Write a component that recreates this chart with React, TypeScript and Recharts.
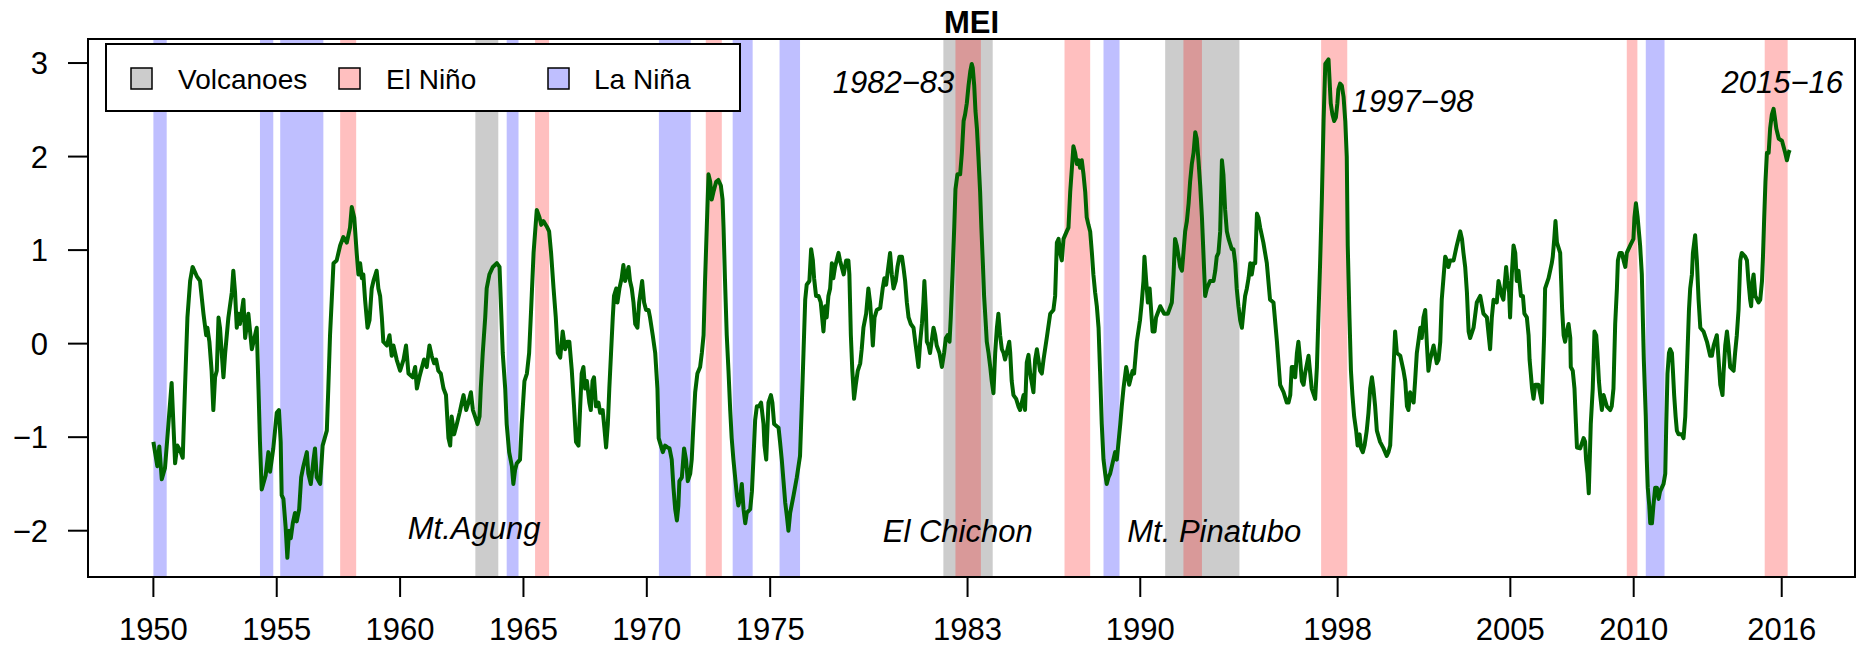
import React from 'react';
import { ComposedChart, Line, XAxis, YAxis, ReferenceArea, ReferenceDot, Legend } from 'recharts';

const FONT = '"Liberation Sans", Arial, Helvetica, sans-serif';

// MEI values: [decimal year, index]
const mei1950s: [number, number][] = [
  [1950.00, -1.05], [1950.16, -1.31], [1950.24, -1.10], [1950.34, -1.45], [1950.47, -1.33], [1950.61, -0.86],
  [1950.74, -0.42], [1950.88, -1.28], [1950.97, -1.09], [1951.08, -1.14], [1951.19, -1.22], [1951.28, -0.48],
  [1951.38, 0.28], [1951.49, 0.67], [1951.59, 0.82], [1951.76, 0.72], [1951.89, 0.67], [1952.03, 0.32],
  [1952.14, 0.09], [1952.19, 0.17], [1952.27, 0.02], [1952.36, -0.29], [1952.43, -0.71], [1952.50, -0.36],
  [1952.57, -0.29], [1952.64, 0.28], [1952.70, 0.17], [1952.77, -0.10], [1952.84, -0.36], [1952.91, -0.10],
  [1953.04, 0.28], [1953.18, 0.55], [1953.24, 0.78], [1953.31, 0.55], [1953.38, 0.17], [1953.45, 0.32],
  [1953.51, 0.21], [1953.65, 0.47], [1953.72, 0.06], [1953.85, 0.32], [1953.99, -0.06], [1954.12, 0.09],
  [1954.19, 0.17], [1954.26, -0.48], [1954.32, -1.05], [1954.39, -1.56], [1954.55, -1.41], [1954.66, -1.16],
  [1954.73, -1.37], [1954.86, -1.12], [1955.00, -0.74], [1955.09, -0.71], [1955.16, -1.05], [1955.20, -1.62],
  [1955.27, -1.66], [1955.36, -1.96], [1955.43, -2.29], [1955.50, -2.00], [1955.57, -2.08], [1955.65, -1.92],
  [1955.74, -1.81], [1955.81, -1.90], [1955.91, -1.77], [1955.99, -1.43], [1956.08, -1.31], [1956.22, -1.16],
  [1956.28, -1.39], [1956.38, -1.50], [1956.49, -1.24], [1956.55, -1.12], [1956.62, -1.43], [1956.76, -1.50],
  [1956.86, -1.09], [1957.03, -0.93], [1957.09, -0.48], [1957.16, 0.09], [1957.23, 0.47], [1957.30, 0.86],
  [1957.43, 0.89], [1957.57, 1.05], [1957.70, 1.14], [1957.84, 1.08], [1957.97, 1.24], [1958.04, 1.46],
  [1958.14, 1.35], [1958.24, 0.97], [1958.31, 0.74], [1958.38, 0.86], [1958.45, 0.70], [1958.51, 0.74],
  [1958.58, 0.47], [1958.68, 0.17], [1958.76, 0.25], [1958.85, 0.59], [1958.92, 0.67], [1959.05, 0.78],
  [1959.12, 0.59], [1959.19, 0.51], [1959.26, 0.28], [1959.32, 0.02], [1959.46, -0.02], [1959.57, 0.09],
  [1959.66, -0.13], [1959.73, -0.02], [1959.86, -0.17],
];

const mei1960s: [number, number][] = [
  [1960.00, -0.29], [1960.14, -0.17], [1960.24, -0.02], [1960.34, -0.32], [1960.51, -0.36], [1960.61, -0.25],
  [1960.68, -0.48], [1960.78, -0.36], [1960.97, -0.17], [1961.08, -0.25], [1961.19, -0.02], [1961.28, -0.13],
  [1961.38, -0.21], [1961.46, -0.17], [1961.55, -0.29], [1961.65, -0.32], [1961.76, -0.48], [1961.86, -0.55],
  [1961.96, -1.01], [1962.03, -1.09], [1962.09, -0.78], [1962.19, -0.97], [1962.30, -0.86], [1962.41, -0.74],
  [1962.50, -0.63], [1962.57, -0.55], [1962.68, -0.71], [1962.77, -0.63], [1962.87, -0.52], [1962.95, -0.71],
  [1963.04, -0.78], [1963.14, -0.86], [1963.22, -0.78], [1963.27, -0.48], [1963.35, -0.10], [1963.45, 0.28],
  [1963.51, 0.59], [1963.62, 0.74], [1963.76, 0.82], [1963.92, 0.86], [1964.03, 0.82], [1964.08, 0.47],
  [1964.16, -0.10], [1964.26, -0.48], [1964.32, -0.86], [1964.42, -1.16], [1964.53, -1.31], [1964.59, -1.50],
  [1964.66, -1.35], [1964.73, -1.28], [1964.86, -1.24], [1964.93, -0.86], [1965.04, -0.40], [1965.14, -0.32],
  [1965.23, -0.10], [1965.31, 0.36], [1965.41, 0.97], [1965.54, 1.43], [1965.65, 1.35], [1965.72, 1.27],
  [1965.81, 1.31], [1965.95, 1.25], [1966.04, 1.20], [1966.12, 0.97], [1966.22, 0.59], [1966.31, 0.28],
  [1966.39, -0.10], [1966.49, -0.15], [1966.59, 0.13], [1966.69, -0.06], [1966.78, 0.02], [1966.86, 0.02],
  [1966.96, -0.29], [1967.05, -0.67], [1967.13, -1.05], [1967.23, -1.09], [1967.30, -0.67], [1967.36, -0.32],
  [1967.43, -0.25], [1967.50, -0.48], [1967.57, -0.40], [1967.67, -0.63], [1967.73, -0.71], [1967.80, -0.40],
  [1967.86, -0.36], [1967.94, -0.67], [1968.04, -0.63], [1968.11, -0.74], [1968.21, -0.71], [1968.28, -0.90],
  [1968.35, -1.11], [1968.42, -0.86], [1968.48, -0.48], [1968.55, -0.10], [1968.62, 0.28], [1968.67, 0.51],
  [1968.76, 0.59], [1968.81, 0.44], [1968.89, 0.59], [1968.98, 0.70], [1969.05, 0.84], [1969.12, 0.67],
  [1969.26, 0.82], [1969.32, 0.67], [1969.39, 0.59], [1969.46, 0.44], [1969.53, 0.21], [1969.62, 0.17],
  [1969.69, 0.44], [1969.81, 0.67], [1969.89, 0.44], [1969.97, 0.36],
];

const mei1970s: [number, number][] = [
  [1970.07, 0.36], [1970.13, 0.28], [1970.24, 0.09], [1970.34, -0.10], [1970.43, -0.48], [1970.48, -1.01],
  [1970.57, -1.09], [1970.65, -1.16], [1970.74, -1.09], [1970.84, -1.11], [1970.92, -1.12], [1971.01, -1.24],
  [1971.08, -1.54], [1971.15, -1.77], [1971.22, -1.89], [1971.28, -1.73], [1971.32, -1.47], [1971.42, -1.43],
  [1971.51, -1.12], [1971.59, -1.24], [1971.66, -1.47], [1971.76, -1.39], [1971.82, -1.24], [1971.89, -0.86],
  [1971.96, -0.52], [1972.05, -0.32], [1972.16, -0.25], [1972.23, -0.10], [1972.30, 0.09], [1972.36, 0.67],
  [1972.43, 1.24], [1972.50, 1.81], [1972.57, 1.73], [1972.63, 1.54], [1972.70, 1.62], [1972.81, 1.73],
  [1972.90, 1.75], [1973.00, 1.69], [1973.07, 1.54], [1973.11, 1.24], [1973.17, 0.67], [1973.24, 0.09],
  [1973.31, -0.29], [1973.38, -0.71], [1973.44, -1.01], [1973.51, -1.24], [1973.58, -1.43], [1973.65, -1.62],
  [1973.71, -1.73], [1973.78, -1.66], [1973.85, -1.50], [1973.92, -1.77], [1973.99, -1.92], [1974.05, -1.81],
  [1974.19, -1.77], [1974.26, -1.58], [1974.32, -1.24], [1974.39, -0.82], [1974.46, -0.67], [1974.55, -0.67],
  [1974.63, -0.63], [1974.73, -0.86], [1974.77, -1.09], [1974.84, -1.24], [1974.93, -0.63], [1975.03, -0.55],
  [1975.09, -0.63], [1975.16, -0.86], [1975.34, -0.90], [1975.40, -1.05], [1975.47, -1.24], [1975.54, -1.47],
  [1975.61, -1.70], [1975.68, -1.85], [1975.74, -2.00], [1975.81, -1.81], [1975.95, -1.62], [1976.08, -1.43],
  [1976.21, -1.20], [1976.28, -0.67], [1976.35, -0.10], [1976.42, 0.47], [1976.48, 0.63], [1976.59, 0.67],
  [1976.66, 1.01], [1976.73, 0.89], [1976.78, 0.70], [1976.86, 0.51], [1976.96, 0.51], [1977.05, 0.44],
  [1977.16, 0.13], [1977.23, 0.40], [1977.29, 0.28], [1977.36, 0.51], [1977.43, 0.59], [1977.50, 0.86],
  [1977.56, 0.70], [1977.63, 0.82], [1977.77, 0.97], [1977.83, 0.89], [1977.90, 0.82], [1977.98, 0.74],
  [1978.08, 0.89], [1978.17, 0.89], [1978.21, 0.74], [1978.27, 0.09], [1978.33, -0.29], [1978.40, -0.59],
  [1978.47, -0.44], [1978.55, -0.29], [1978.65, -0.21], [1978.71, -0.06], [1978.78, 0.17], [1978.89, 0.32],
  [1978.98, 0.59], [1979.05, 0.44], [1979.12, 0.17], [1979.16, -0.02], [1979.23, 0.28], [1979.32, 0.36],
  [1979.46, 0.38], [1979.56, 0.59], [1979.63, 0.70], [1979.70, 0.63], [1979.75, 0.74], [1979.86, 0.97],
  [1979.93, 0.74],
];

const mei1980s: [number, number][] = [
  [1980.00, 0.59], [1980.09, 0.67], [1980.16, 0.82], [1980.24, 0.93], [1980.34, 0.93], [1980.40, 0.82],
  [1980.47, 0.67], [1980.54, 0.44], [1980.61, 0.28], [1980.70, 0.21], [1980.81, 0.17], [1980.88, 0.02],
  [1980.94, -0.10], [1981.01, -0.25], [1981.08, 0.02], [1981.15, 0.21], [1981.21, 0.44], [1981.25, 0.67],
  [1981.31, 0.36], [1981.35, 0.02], [1981.42, -0.02], [1981.48, -0.10], [1981.62, 0.17], [1981.69, 0.09],
  [1981.75, -0.02], [1981.86, -0.10], [1981.96, -0.25], [1982.05, -0.10], [1982.12, 0.06], [1982.19, 0.09],
  [1982.27, 0.02], [1982.32, 0.28], [1982.39, 0.74], [1982.46, 1.24], [1982.51, 1.65], [1982.59, 1.81],
  [1982.70, 1.81], [1982.77, 2.04], [1982.84, 2.38], [1982.90, 2.45], [1982.97, 2.57], [1983.04, 2.76],
  [1983.11, 2.91], [1983.17, 2.99], [1983.21, 2.95], [1983.27, 2.76], [1983.32, 2.49], [1983.38, 2.30],
  [1983.44, 2.00], [1983.51, 1.62], [1983.56, 1.24], [1983.62, 0.86], [1983.67, 0.51], [1983.73, 0.25],
  [1983.78, 0.02], [1983.85, -0.10], [1983.92, -0.25], [1983.98, -0.40], [1984.05, -0.53], [1984.12, -0.10],
  [1984.19, 0.17], [1984.25, 0.32], [1984.32, 0.09], [1984.39, -0.06], [1984.46, -0.10], [1984.52, -0.17],
  [1984.62, -0.06], [1984.69, 0.02], [1984.73, -0.10], [1984.79, -0.40], [1984.86, -0.55], [1984.97, -0.59],
  [1985.06, -0.67], [1985.13, -0.71], [1985.20, -0.63], [1985.27, -0.55], [1985.33, -0.71], [1985.40, -0.20],
  [1985.47, -0.12], [1985.54, -0.32], [1985.67, -0.52], [1985.74, -0.17], [1985.81, -0.06], [1985.94, -0.29],
  [1986.01, -0.32], [1986.08, -0.17], [1986.21, 0.06], [1986.35, 0.32], [1986.48, 0.36], [1986.55, 0.51],
  [1986.62, 1.08], [1986.69, 1.12], [1986.75, 0.97], [1986.82, 0.89], [1986.89, 1.12], [1987.02, 1.20],
  [1987.09, 1.24], [1987.16, 1.62], [1987.23, 1.88], [1987.29, 2.11], [1987.36, 2.04], [1987.43, 1.92],
  [1987.50, 1.96], [1987.56, 1.88], [1987.63, 1.96], [1987.70, 1.81], [1987.77, 1.62], [1987.83, 1.35],
  [1987.90, 1.27], [1987.97, 1.20], [1988.04, 0.97], [1988.10, 0.74], [1988.17, 0.55], [1988.24, 0.40],
  [1988.31, 0.17], [1988.37, -0.29], [1988.44, -0.86], [1988.51, -1.24], [1988.58, -1.39], [1988.64, -1.50],
  [1988.71, -1.43], [1988.78, -1.39], [1988.91, -1.24], [1988.98, -1.16], [1989.05, -1.24], [1989.12, -1.05],
  [1989.19, -0.86], [1989.25, -0.67], [1989.32, -0.48], [1989.43, -0.25], [1989.48, -0.32], [1989.55, -0.44],
  [1989.69, -0.29], [1989.75, -0.32], [1989.86, 0.02], [1989.99, 0.25],
];

const mei1990s: [number, number][] = [
  [1990.06, 0.44], [1990.13, 0.67], [1990.17, 0.93], [1990.24, 0.67], [1990.31, 0.44], [1990.38, 0.59],
  [1990.44, 0.36], [1990.50, 0.13], [1990.58, 0.13], [1990.64, 0.28], [1990.81, 0.40], [1990.97, 0.32],
  [1991.12, 0.32], [1991.28, 0.44], [1991.35, 0.74], [1991.41, 1.12], [1991.48, 1.05], [1991.62, 0.82],
  [1991.69, 0.78], [1991.75, 0.97], [1991.82, 1.20], [1991.89, 1.31], [1991.96, 1.50], [1992.02, 1.73],
  [1992.09, 1.92], [1992.16, 2.04], [1992.23, 2.26], [1992.29, 2.19], [1992.36, 1.96], [1992.43, 1.69],
  [1992.50, 1.35], [1992.56, 0.97], [1992.63, 0.51], [1992.70, 0.59], [1992.83, 0.67], [1992.97, 0.67],
  [1993.04, 0.78], [1993.10, 0.93], [1993.17, 0.97], [1993.24, 1.20], [1993.31, 1.96], [1993.37, 1.81],
  [1993.44, 1.43], [1993.51, 1.20], [1993.58, 1.12], [1993.71, 1.01], [1993.78, 1.01], [1993.85, 0.86],
  [1993.91, 0.59], [1993.98, 0.40], [1994.05, 0.25], [1994.12, 0.17], [1994.19, 0.36], [1994.25, 0.51],
  [1994.32, 0.59], [1994.39, 0.70], [1994.46, 0.86], [1994.52, 0.74], [1994.59, 0.86], [1994.66, 0.86],
  [1994.73, 1.39], [1994.79, 1.35], [1994.86, 1.24], [1994.99, 1.08], [1995.13, 0.86], [1995.26, 0.47],
  [1995.40, 0.44], [1995.54, 0.02], [1995.67, -0.44], [1995.81, -0.52], [1995.94, -0.63], [1996.01, -0.63],
  [1996.08, -0.55], [1996.14, -0.25], [1996.21, -0.25], [1996.28, -0.36], [1996.35, -0.10], [1996.41, 0.02],
  [1996.48, -0.17], [1996.55, -0.40], [1996.62, -0.44], [1996.68, -0.32], [1996.82, -0.13], [1996.89, -0.32],
  [1996.95, -0.48], [1997.09, -0.59], [1997.16, -0.25], [1997.22, 0.28], [1997.29, 0.86], [1997.36, 1.54],
  [1997.43, 2.38], [1997.50, 2.99], [1997.63, 3.04], [1997.67, 2.83], [1997.72, 2.57], [1997.79, 2.45],
  [1997.86, 2.38], [1997.93, 2.42], [1997.99, 2.57], [1998.03, 2.72], [1998.10, 2.78], [1998.17, 2.76],
  [1998.24, 2.64], [1998.31, 2.38], [1998.37, 2.00], [1998.41, 1.05], [1998.48, 0.28], [1998.54, -0.29],
  [1998.60, -0.55], [1998.67, -0.78], [1998.75, -0.93], [1998.81, -1.09], [1998.89, -0.97], [1998.95, -1.12],
  [1999.02, -1.16], [1999.09, -1.09], [1999.18, -0.93], [1999.25, -0.74], [1999.32, -0.48], [1999.39, -0.36],
  [1999.45, -0.48], [1999.52, -0.67], [1999.59, -0.93], [1999.72, -1.05], [1999.86, -1.12], [1999.99, -1.20],
];

const mei2000s: [number, number][] = [
  [2000.06, -1.16], [2000.13, -1.09], [2000.20, -0.67], [2000.26, -0.29], [2000.33, 0.13], [2000.40, -0.10],
  [2000.54, -0.13], [2000.67, -0.29], [2000.74, -0.40], [2000.81, -0.67], [2000.87, -0.71], [2000.94, -0.52],
  [2001.08, -0.63], [2001.14, -0.40], [2001.21, -0.10], [2001.35, 0.17], [2001.41, 0.06], [2001.48, 0.28],
  [2001.55, 0.36], [2001.62, -0.02], [2001.68, -0.29], [2001.75, -0.17], [2001.89, -0.02], [2002.02, -0.21],
  [2002.09, -0.17], [2002.16, 0.02], [2002.22, 0.47], [2002.29, 0.70], [2002.36, 0.93], [2002.43, 0.89],
  [2002.49, 0.82], [2002.56, 0.89], [2002.70, 0.89], [2002.83, 1.05], [2002.97, 1.20], [2003.04, 1.12],
  [2003.10, 0.97], [2003.17, 0.82], [2003.24, 0.55], [2003.31, 0.13], [2003.37, 0.06], [2003.51, 0.17],
  [2003.64, 0.44], [2003.78, 0.51], [2003.91, 0.32], [2004.05, 0.28], [2004.18, -0.06], [2004.25, 0.28],
  [2004.32, 0.47], [2004.45, 0.44], [2004.52, 0.67], [2004.66, 0.51], [2004.72, 0.47], [2004.83, 0.82],
  [2004.88, 0.67], [2004.95, 0.55], [2004.99, 0.28], [2005.06, 0.74], [2005.13, 1.05], [2005.20, 0.97],
  [2005.26, 0.67], [2005.33, 0.78], [2005.37, 0.67], [2005.43, 0.51], [2005.51, 0.51], [2005.57, 0.32],
  [2005.67, 0.28], [2005.74, 0.09], [2005.78, -0.17], [2005.83, -0.32], [2005.88, -0.48], [2005.94, -0.59],
  [2006.01, -0.44], [2006.14, -0.44], [2006.28, -0.63], [2006.32, -0.32], [2006.37, 0.09], [2006.41, 0.59],
  [2006.55, 0.70], [2006.68, 0.86], [2006.72, 0.93], [2006.78, 1.12], [2006.83, 1.31], [2006.89, 1.08],
  [2007.02, 0.97], [2007.06, 0.67], [2007.10, 0.36], [2007.16, 0.09], [2007.22, 0.02], [2007.29, 0.13],
  [2007.36, 0.21], [2007.43, 0.06], [2007.45, -0.25], [2007.53, -0.29], [2007.60, -0.48], [2007.66, -0.86],
  [2007.70, -1.11], [2007.83, -1.12], [2007.97, -1.01], [2008.03, -1.05], [2008.07, -1.24], [2008.13, -1.39],
  [2008.18, -1.60], [2008.26, -0.86], [2008.34, -0.48], [2008.41, 0.13], [2008.48, 0.09], [2008.53, -0.10],
  [2008.59, -0.40], [2008.64, -0.55], [2008.71, -0.71], [2008.78, -0.55], [2008.91, -0.67], [2009.05, -0.71],
  [2009.11, -0.67], [2009.18, -0.48], [2009.25, 0.21], [2009.32, 0.59], [2009.36, 0.89], [2009.43, 0.97],
  [2009.52, 0.97], [2009.59, 0.89], [2009.66, 0.82], [2009.72, 0.97], [2009.86, 1.05], [2009.99, 1.12],
];

const mei2010s: [number, number][] = [
  [2010.03, 1.35], [2010.09, 1.50], [2010.16, 1.35], [2010.21, 1.20], [2010.26, 1.05], [2010.33, 0.74],
  [2010.37, 0.28], [2010.41, -0.17], [2010.45, -0.48], [2010.49, -0.78], [2010.53, -1.24], [2010.57, -1.54],
  [2010.63, -1.73], [2010.67, -1.92], [2010.74, -1.92], [2010.80, -1.73], [2010.87, -1.54], [2010.94, -1.54],
  [2011.01, -1.66], [2011.07, -1.58], [2011.21, -1.50], [2011.28, -1.39], [2011.32, -0.86], [2011.37, -0.32],
  [2011.43, -0.10], [2011.48, -0.06], [2011.55, -0.10], [2011.59, -0.29], [2011.64, -0.55], [2011.70, -0.78],
  [2011.75, -0.93], [2011.82, -0.97], [2011.95, -0.97], [2012.02, -1.01], [2012.09, -0.78], [2012.13, -0.48],
  [2012.18, -0.10], [2012.24, 0.36], [2012.29, 0.59], [2012.36, 0.74], [2012.40, 0.97], [2012.49, 1.16],
  [2012.56, 0.89], [2012.63, 0.47], [2012.70, 0.17], [2012.83, 0.13], [2012.97, 0.02], [2013.10, -0.13],
  [2013.17, -0.13], [2013.24, -0.02], [2013.37, 0.09], [2013.44, -0.17], [2013.51, -0.44], [2013.60, -0.55],
  [2013.64, -0.32], [2013.71, -0.02], [2013.78, 0.13], [2013.84, -0.02], [2013.91, -0.25], [2014.05, -0.29],
  [2014.11, -0.10], [2014.18, 0.09], [2014.25, 0.36], [2014.32, 0.89], [2014.38, 0.97], [2014.52, 0.93],
  [2014.59, 0.89], [2014.65, 0.67], [2014.72, 0.47], [2014.76, 0.40], [2014.82, 0.67], [2014.86, 0.74],
  [2014.93, 0.51], [2015.06, 0.44], [2015.13, 0.47], [2015.20, 0.67], [2015.24, 0.93], [2015.29, 1.35],
  [2015.34, 1.73], [2015.40, 2.04], [2015.47, 2.04], [2015.53, 2.30], [2015.60, 2.45], [2015.67, 2.51],
  [2015.72, 2.42], [2015.78, 2.30], [2015.88, 2.19], [2016.01, 2.17], [2016.07, 2.11], [2016.14, 2.04],
  [2016.21, 1.96], [2016.28, 2.04], [2016.32, 2.07],
];

const xTicks = [1950, 1955, 1960, 1965, 1970, 1975, 1983, 1990, 1998, 2005, 2010, 2016];
const yTicks = [-2, -1, 0, 1, 2, 3];

const volcanoPeriods: [number, number][] = [[1963.05, 1963.98], [1982.02, 1984.02], [1991.01, 1994.02]];
const elNinoPeriods: [number, number][] = [
  [1957.57, 1958.22], [1965.47, 1966.04], [1972.39, 1973.04], [1982.51, 1983.54], [1986.93, 1987.97],
  [1991.75, 1992.50], [1997.33, 1998.39], [2009.72, 2010.15], [2015.31, 2016.24],
];
const laNinaPeriods: [number, number][] = [
  [1950.00, 1950.54], [1954.32, 1954.86], [1955.14, 1956.89], [1964.32, 1964.80], [1970.49, 1971.78],
  [1973.48, 1974.29], [1975.38, 1976.21], [1988.51, 1989.16], [2010.49, 2011.25],
];

const annotations = [
  { text: 'Mt.Agung', x: 1963.0, y: -1.97 },
  { text: 'El Chichon', x: 1982.6, y: -2.01 },
  { text: 'Mt. Pinatubo', x: 1993.0, y: -2.01 },
  { text: '1982\u221283', x: 1980.0, y: 2.80 },
  { text: '1997\u221298', x: 2001.04, y: 2.59 },
  { text: '2015\u221216', x: 2016.02, y: 2.80 },
];

const legendItems = [
  { label: 'Volcanoes', color: '#000000', opacity: 0.2 },
  { label: 'El Niño', color: '#FF0000', opacity: 0.25 },
  { label: 'La Niña', color: '#0000FF', opacity: 0.25 },
];

const TITLE = 'MEI';
const X_DOMAIN: [number, number] = [1947.35, 2018.97];
const Y_DOMAIN: [number, number] = [-2.495, 3.257];

const meiData = [...mei1950s, ...mei1960s, ...mei1970s, ...mei1980s, ...mei1990s, ...mei2000s, ...mei2010s].map(
  ([year, mei]) => ({ year, mei })
);

const bandColors = {
  volcano: { fill: '#000000', opacity: 0.2 },
  elNino: { fill: '#FF0000', opacity: 0.25 },
  laNina: { fill: '#0000FF', opacity: 0.25 },
};

const legendSquareX = [26, 234, 443];
const legendTextX = [73, 281, 489];

const LegendBox = () => (
  <svg width={636} height={69} style={{ display: 'block' }}>
    <rect x={1} y={1} width={634} height={67} fill="#fff" stroke="#000" strokeWidth={2} />
    {legendItems.map((it, i) => (
      <g key={it.label}>
        <rect x={legendSquareX[i]} y={25} width={21} height={21} fill={it.color} fillOpacity={it.opacity} stroke="#000" strokeWidth={1.5} />
        <text x={legendTextX[i]} y={46} fontSize={28} fontFamily={FONT} fill="#000">{it.label}</text>
      </g>
    ))}
  </svg>
);

const makeText = (text: string, size: number, italic: boolean, bold: boolean) => (props: any) => (
  <text
    x={props.cx}
    y={props.cy}
    dy="0.35em"
    textAnchor="middle"
    fontSize={size}
    fontFamily={FONT}
    fontStyle={italic ? 'italic' : 'normal'}
    fontWeight={bold ? 'bold' : 'normal'}
    fill="#000"
  >
    {text}
  </text>
);

const fmtMinus = (v: number) => String(v).replace('-', '\u2212');

export default function App() {
  return (
    <div style={{ position: 'absolute', left: 0, top: 0, width: 1858, height: 654, background: '#fff' }}>
      <ComposedChart width={1858} height={654} data={meiData} margin={{ top: 39, right: 3, bottom: 0, left: 0 }}>
        <XAxis
          dataKey="year"
          type="number"
          domain={X_DOMAIN}
          allowDataOverflow
          ticks={xTicks}
          interval={0}
          height={77}
          tickSize={20}
          tickMargin={21}
          axisLine={false}
          tickLine={{ stroke: '#000', strokeWidth: 2 }}
          tick={{ fontSize: 31, fill: '#000', fontFamily: FONT }}
        />
        <YAxis
          type="number"
          domain={Y_DOMAIN}
          allowDataOverflow
          ticks={yTicks}
          interval={0}
          width={88}
          tickSize={20}
          tickMargin={20}
          axisLine={false}
          tickFormatter={fmtMinus}
          tickLine={{ stroke: '#000', strokeWidth: 2 }}
          tick={{ fontSize: 31, fill: '#000', fontFamily: FONT }}
        />
        {volcanoPeriods.map(([a, b], i) => (
          <ReferenceArea key={`v${i}`} x1={a} x2={b} fill={bandColors.volcano.fill} fillOpacity={bandColors.volcano.opacity} stroke="none" />
        ))}
        {elNinoPeriods.map(([a, b], i) => (
          <ReferenceArea key={`e${i}`} x1={a} x2={b} fill={bandColors.elNino.fill} fillOpacity={bandColors.elNino.opacity} stroke="none" />
        ))}
        {laNinaPeriods.map(([a, b], i) => (
          <ReferenceArea key={`l${i}`} x1={a} x2={b} fill={bandColors.laNina.fill} fillOpacity={bandColors.laNina.opacity} stroke="none" />
        ))}
        <ReferenceArea
          x1={X_DOMAIN[0]}
          x2={X_DOMAIN[1]}
          y1={Y_DOMAIN[0]}
          y2={Y_DOMAIN[1]}
          fill="none"
          stroke="#000"
          strokeWidth={2}
          ifOverflow="visible"
        />
        <Line
          type="linear"
          dataKey="mei"
          stroke="#006400"
          strokeWidth={4}
          strokeLinejoin="round"
          dot={false}
          activeDot={false}
          isAnimationActive={false}
        />
        {annotations.map((a) => (
          <ReferenceDot key={a.text} x={a.x} y={a.y} r={0} ifOverflow="visible" shape={makeText(a.text, 31, true, false)} />
        ))}
        <ReferenceDot x={(X_DOMAIN[0] + X_DOMAIN[1]) / 2} y={3.438} r={0} ifOverflow="visible" shape={makeText(TITLE, 31, false, true)} />
        <Legend
          layout="horizontal"
          verticalAlign="middle"
          align="center"
          wrapperStyle={{ left: 105, top: 43, width: 636, height: 69 }}
          content={() => <LegendBox />}
        />
      </ComposedChart>
    </div>
  );
}
